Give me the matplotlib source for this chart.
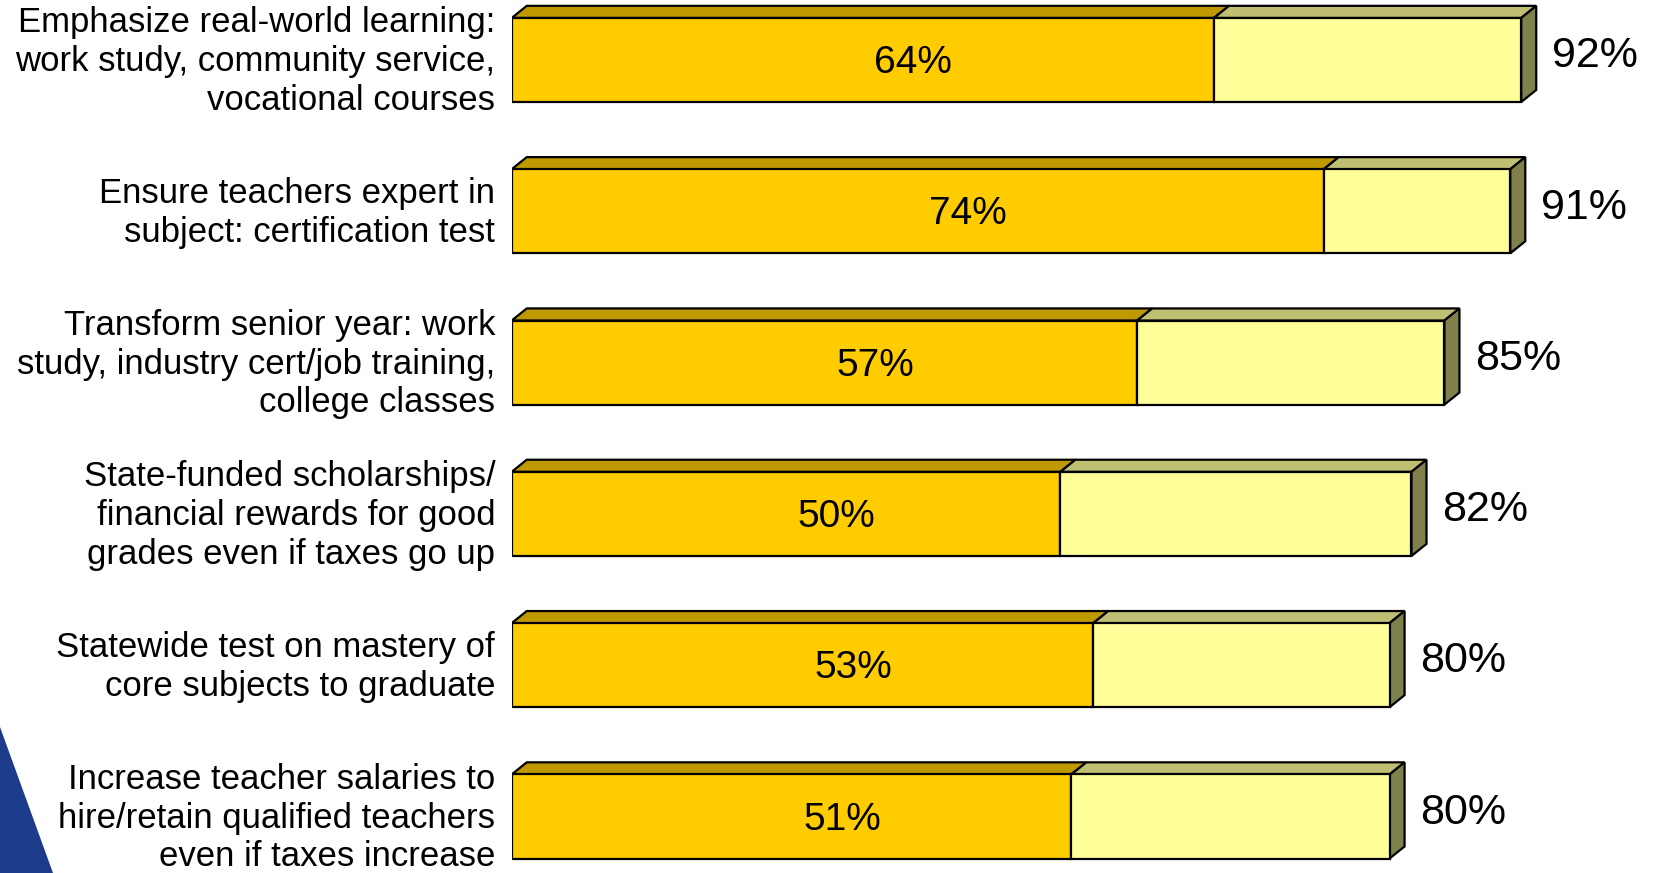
import matplotlib.pyplot as plt
from matplotlib.patches import Polygon

# Survey items and support levels (strongly favour / total favour)
categories = [
    "Emphasize real-world learning:\nwork study, community service,\nvocational courses",
    "Ensure teachers expert in\nsubject: certification test",
    "Transform senior year: work\nstudy, industry cert/job training,\ncollege classes",
    "State-funded scholarships/\nfinancial rewards for good\ngrades even if taxes go up",
    "Statewide test on mastery of\ncore subjects to graduate",
    "Increase teacher salaries to\nhire/retain qualified teachers\neven if taxes increase",
]
strong = [64, 74, 57, 50, 53, 51]
total = [92, 91, 85, 82, 80, 80]

W, H = 1653, 873
fig = plt.figure(figsize=(W / 100, H / 100), dpi=100)
fig.patch.set_facecolor("white")

# blue corner shape at bottom left
fig.patches.append(Polygon([(0, 0), (0, 146 / H), (53 / W, 0)], closed=True,
                           transform=fig.transFigure, facecolor="#1d3b8b",
                           edgecolor="none"))

ax = fig.add_axes([511.7 / W, 0, (1609 - 511.7) / W, 1])
ax.set_xlim(0, 100)
step = 151.3
ax.set_ylim((H - 60) / step, -60 / step)
ax.axis("off")

bar_h = 0.556
dx, dy = 1.37, 0.08
lw = 1.6

gold, gold_top = "#ffcc00", "#bf9900"
pale, pale_top, pale_side = "#ffff99", "#bfbf73", "#80804d"

ys = list(range(len(categories)))
ax.barh(ys, strong, height=bar_h, left=0, color=gold, edgecolor="black",
        linewidth=lw, zorder=3)
ax.barh(ys, [t - s for s, t in zip(strong, total)], height=bar_h, left=strong,
        color=pale, edgecolor="black", linewidth=lw, zorder=3)

for y, s, t, label in zip(ys, strong, total, categories):
    top = y - bar_h / 2
    bot = y + bar_h / 2
    # top faces
    ax.add_patch(Polygon([(0, top), (dx, top - dy), (s + dx, top - dy), (s, top)],
                         closed=True, facecolor=gold_top, edgecolor="black",
                         linewidth=lw, zorder=2))
    ax.add_patch(Polygon([(s, top), (s + dx, top - dy), (t + dx, top - dy), (t, top)],
                         closed=True, facecolor=pale_top, edgecolor="black",
                         linewidth=lw, zorder=2))
    # right side face
    ax.add_patch(Polygon([(t, top), (t + dx, top - dy), (t + dx, bot - dy), (t, bot)],
                         closed=True, facecolor=pale_side, edgecolor="black",
                         linewidth=lw, zorder=2))

    ax.text(s / 2 + 4.6, y + 0.02, f"{s}%", ha="center", va="center", fontsize=28,
            family="Liberation Sans", zorder=4)
    ax.text(t + dx + 1.4, y - 0.025, f"{t}%", ha="left", va="center", fontsize=31,
            family="Liberation Sans", zorder=4)
    ax.text(-1.5, y + 0.01, label, ha="right", va="center", fontsize=25,
            family="Liberation Sans", linespacing=1.22, zorder=4)

fig.savefig("out.png", dpi=100)
